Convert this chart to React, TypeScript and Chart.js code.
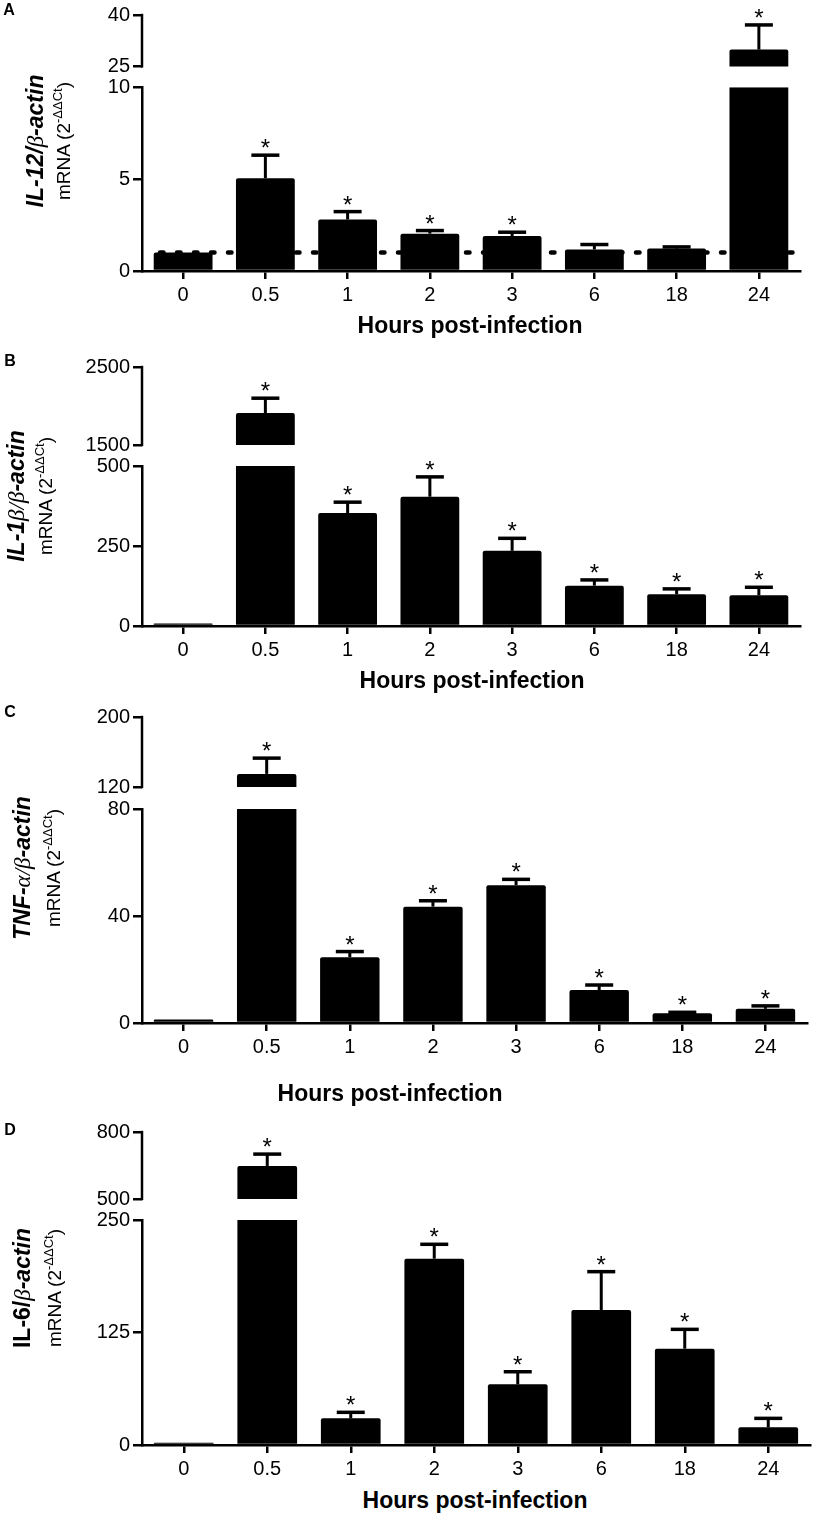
import React, { useEffect, useRef } from "react";
import Chart from "chart.js/auto";

const FONT = "'Liberation Sans', Arial, sans-serif";
Chart.defaults.font.family = FONT;
Chart.defaults.color = "#000";

// ---- data ----
const HOURS = ["0", "0.5", "1", "2", "3", "6", "18", "24"];

const IL12_MEAN = [1.0, 5.05, 2.8, 2.03, 1.9, 1.17, 1.22, 29.9];
const IL12_SEM = [0, 1.25, 0.43, 0.17, 0.21, 0.27, 0.09, 7.2];
const IL12_SIG = [false, true, true, true, true, false, false, true];
const IL12_TICKS_LOW = [0, 5, 10];
const IL12_TICKS_HIGH = [25, 40];
const IL12_CONTROL = 1;

const IL1B_MEAN = [8, 1910, 353, 404, 235, 126, 99, 96];
const IL1B_SEM = [0, 190, 34, 62, 39, 18, 17, 25];
const IL1B_SIG = [false, true, true, true, true, true, true, true];
const IL1B_TICKS_LOW = [0, 250, 500];
const IL1B_TICKS_HIGH = [1500, 2500];

const TNF_MEAN = [1.3, 135, 24.6, 43.5, 51.5, 12.3, 3.6, 5.3];
const TNF_SEM = [0, 18, 2.1, 2.2, 2.2, 1.9, 0.4, 1.1];
const TNF_SIG = [false, true, true, true, true, true, true, true];
const TNF_TICKS_LOW = [0, 40, 80];
const TNF_TICKS_HIGH = [120, 200];

const IL6_MEAN = [2.5, 648, 29.6, 207, 67.4, 150, 107, 19.6];
const IL6_SEM = [0, 53, 6.7, 16, 14, 42.6, 21.5, 10];
const IL6_SIG = [false, true, true, true, true, true, true, true];
const IL6_TICKS_LOW = [0, 125, 250];
const IL6_TICKS_HIGH = [500, 800];

// ---- layout ----
const CANVAS_W = 813;
const AXIS_LEFT = 142;
const Y_AXIS_W = 72;
const X_AXIS_H = 36;

type PanelProps = {
  means: number[];
  sem: number[];
  sig: boolean[];
  ticksLow: number[];
  ticksHigh: number[];
  control?: number;
  top: number;
  padTop: number;
  upperH: number;
  gap: number;
  lowerH: number;
  padRight: number;
};

function BrokenBarChart(p: PanelProps) {
  const canvasRef = useRef<HTMLCanvasElement>(null);
  const chartRef = useRef<Chart | null>(null);
  const height = p.padTop + p.upperH + p.gap + p.lowerH + X_AXIS_H;

  useEffect(() => {
    if (!canvasRef.current) return;
    const lowMax = p.ticksLow[p.ticksLow.length - 1];
    const highMin = p.ticksHigh[0];
    const highMax = p.ticksHigh[p.ticksHigh.length - 1];
    // extend the upper scale downward so the break gap is empty space
    const highFloor = highMin - (p.gap * (highMax - highMin)) / p.upperH;

    const overlay = {
      id: "overlay",
      afterDatasetsDraw(chart: any) {
        const ctx = chart.ctx as CanvasRenderingContext2D;
        const xs = chart.scales.x;
        const yLow = chart.scales.y;
        const yHigh = chart.scales.yTop;
        const left = chart.chartArea.left;
        ctx.save();
        ctx.strokeStyle = "#000";
        ctx.fillStyle = "#000";

        // upper segment of the y axis
        ctx.lineWidth = 2.5;
        ctx.beginPath();
        ctx.moveTo(left, yHigh.getPixelForValue(highMin) + 1.2);
        ctx.lineTo(left, yHigh.getPixelForValue(highMax) - 1.2);
        ctx.stroke();

        // dashed control line
        if (p.control !== undefined) {
          const yc = yLow.getPixelForValue(p.control);
          ctx.lineWidth = 4.5;
          ctx.lineCap = "round";
          ctx.setLineDash([3.5, 13.5]);
          ctx.beginPath();
          ctx.moveTo(left + 18, yc);
          ctx.lineTo(chart.chartArea.right - 4, yc);
          ctx.stroke();
          ctx.setLineDash([]);
          ctx.lineCap = "butt";
        }

        // error bars and asterisks
        ctx.font = `24px ${FONT}`;
        ctx.textAlign = "center";
        ctx.textBaseline = "alphabetic";
        p.means.forEach((m, i) => {
          const hi = m + p.sem[i];
          const sc = hi > lowMax ? yHigh : yLow;
          const cx = xs.getPixelForValue(i);
          const yTop = sc.getPixelForValue(hi);
          if (p.sem[i] > 0) {
            const yBar = sc.getPixelForValue(m);
            ctx.lineWidth = 3;
            ctx.beginPath();
            ctx.moveTo(cx, yBar);
            ctx.lineTo(cx, yTop);
            ctx.stroke();
            ctx.lineWidth = 3.5;
            ctx.beginPath();
            ctx.moveTo(cx - 14, yTop);
            ctx.lineTo(cx + 14, yTop);
            ctx.stroke();
          }
          if (p.sig[i]) ctx.fillText("*", cx, yTop + 1);
        });
        ctx.restore();
      },
    };

    const tickFont = { size: 20 };
    const yCommon = {
      type: "linear" as const,
      position: "left" as const,
      stack: "broken",
      grid: { drawOnChartArea: false, drawTicks: true, tickLength: 9, color: "#000", lineWidth: 2.5 },
      ticks: { font: tickFont, color: "#000", padding: 3, callback: (v: any) => String(v) },
      afterFit: (s: any) => {
        s.width = Y_AXIS_W;
      },
    };

    if (chartRef.current) chartRef.current.destroy();
    chartRef.current = new Chart(canvasRef.current, {
      type: "bar",
      data: {
        labels: HOURS,
        datasets: [
          {
            data: p.means.map((m) => Math.min(m, lowMax)),
            yAxisID: "y",
            backgroundColor: "#000",
            grouped: false,
            categoryPercentage: 1,
            barPercentage: 0.715,
            borderRadius: (c: any) => ((c.raw as number) >= lowMax ? 0 : 2),
          },
          {
            data: p.means.map((m) => (m > highMin ? [highMin, m] : null)) as any,
            yAxisID: "yTop",
            backgroundColor: "#000",
            grouped: false,
            categoryPercentage: 1,
            barPercentage: 0.715,
            borderRadius: 2,
          },
        ],
      },
      options: {
        responsive: false,
        animation: false,
        layout: { padding: { left: AXIS_LEFT - Y_AXIS_W, right: p.padRight, top: p.padTop, bottom: 0 } },
        plugins: { legend: { display: false }, tooltip: { enabled: false } },
        scales: {
          x: {
            offset: true,
            grid: { display: true, drawOnChartArea: false, drawTicks: true, tickLength: 8, offset: false, color: "#000", lineWidth: 2.5 },
            border: { display: true, color: "#000", width: 2.5 },
            ticks: { font: tickFont, color: "#000", padding: 4, maxRotation: 0 },
            afterFit: (s: any) => {
              s.height = X_AXIS_H;
            },
          },
          y: {
            ...yCommon,
            stackWeight: p.lowerH,
            min: 0,
            max: lowMax,
            border: { display: true, color: "#000", width: 2.5 },
            afterBuildTicks: (s: any) => {
              s.ticks = p.ticksLow.map((v) => ({ value: v }));
            },
          },
          yTop: {
            ...yCommon,
            stackWeight: p.upperH + p.gap,
            min: highFloor,
            max: highMax,
            border: { display: false },
            afterBuildTicks: (s: any) => {
              s.ticks = p.ticksHigh.map((v) => ({ value: v }));
            },
          },
        } as any,
      },
      plugins: [overlay],
    });

    return () => {
      if (chartRef.current) {
        chartRef.current.destroy();
        chartRef.current = null;
      }
    };
  }, []);

  return (
    <canvas
      ref={canvasRef}
      width={CANVAS_W}
      height={height}
      style={{ position: "absolute", left: 0, top: p.top, width: CANVAS_W, height }}
    />
  );
}

const greek: React.CSSProperties = { fontFamily: "'Liberation Serif', 'DejaVu Serif', serif", fontWeight: 400, fontStyle: "italic" };

function Rotated({ x, y, children, style }: { x: number; y: number; children: React.ReactNode; style?: React.CSSProperties }) {
  return (
    <div
      style={{
        position: "absolute",
        left: x,
        top: y,
        transform: "translate(-50%, -50%) rotate(-90deg)",
        whiteSpace: "nowrap",
        lineHeight: 1,
        ...style,
      }}
    >
      {children}
    </div>
  );
}

function Text({ x, y, children, style }: { x: number; y: number; children: React.ReactNode; style?: React.CSSProperties }) {
  return (
    <div style={{ position: "absolute", left: x, top: y, transform: "translate(-50%, -50%)", whiteSpace: "nowrap", lineHeight: 1, ...style }}>
      {children}
    </div>
  );
}

const geneStyle: React.CSSProperties = { fontSize: 23, fontWeight: 700, fontStyle: "italic" };
const mrnaStyle: React.CSSProperties = { fontSize: 19 };
const xTitleStyle: React.CSSProperties = { fontSize: 23, fontWeight: 700 };
const letterStyle: React.CSSProperties = { fontSize: 16, fontWeight: 700 };

const Mrna = () => (
  <>
    mRNA (2<sup style={{ fontSize: 13, verticalAlign: "0.6em" }}>-ΔΔCt</sup>)
  </>
);

export default function App() {
  return (
    <div style={{ position: "absolute", left: 0, top: 0, width: 813, height: 1516, background: "#fff", fontFamily: FONT, color: "#000" }}>
      <BrokenBarChart means={IL12_MEAN} sem={IL12_SEM} sig={IL12_SIG} ticksLow={IL12_TICKS_LOW} ticksHigh={IL12_TICKS_HIGH} control={IL12_CONTROL}
        top={0} padTop={12} upperH={52} gap={21} lowerH={186} padRight={13} />
      <BrokenBarChart means={IL1B_MEAN} sem={IL1B_SEM} sig={IL1B_SIG} ticksLow={IL1B_TICKS_LOW} ticksHigh={IL1B_TICKS_HIGH}
        top={337} padTop={30} upperH={78} gap={21} lowerH={160} padRight={13} />
      <BrokenBarChart means={TNF_MEAN} sem={TNF_SEM} sig={TNF_SIG} ticksLow={TNF_TICKS_LOW} ticksHigh={TNF_TICKS_HIGH}
        top={687} padTop={30} upperH={70} gap={22} lowerH={214} padRight={6} />
      <BrokenBarChart means={IL6_MEAN} sem={IL6_SEM} sig={IL6_SIG} ticksLow={IL6_TICKS_LOW} ticksHigh={IL6_TICKS_HIGH}
        top={1102} padTop={30} upperH={67} gap={21} lowerH={225} padRight={3} />

      <Text x={9} y={10} style={letterStyle}>A</Text>
      <Text x={10} y={361} style={letterStyle}>B</Text>
      <Text x={10} y={712} style={letterStyle}>C</Text>
      <Text x={10} y={1130} style={letterStyle}>D</Text>

      <Rotated x={35} y={141} style={geneStyle}>
        IL-12/<span style={greek}>β</span>-actin
      </Rotated>
      <Rotated x={62} y={141} style={mrnaStyle}><Mrna /></Rotated>

      <Rotated x={16} y={496} style={geneStyle}>
        IL-1<span style={greek}>β/β</span>-actin
      </Rotated>
      <Rotated x={44} y={496} style={mrnaStyle}><Mrna /></Rotated>

      <Rotated x={22} y={868} style={geneStyle}>
        TNF-<span style={greek}>α/β</span>-actin
      </Rotated>
      <Rotated x={52} y={868} style={mrnaStyle}><Mrna /></Rotated>

      <Rotated x={22} y={1288} style={geneStyle}>
        <span style={{ fontStyle: "normal" }}>IL-6/</span><span style={greek}>β</span>-actin
      </Rotated>
      <Rotated x={53} y={1288} style={mrnaStyle}><Mrna /></Rotated>

      <Text x={470} y={325} style={xTitleStyle}>Hours post-infection</Text>
      <Text x={472} y={680} style={xTitleStyle}>Hours post-infection</Text>
      <Text x={390} y={1093} style={xTitleStyle}>Hours post-infection</Text>
      <Text x={475} y={1500} style={xTitleStyle}>Hours post-infection</Text>
    </div>
  );
}
